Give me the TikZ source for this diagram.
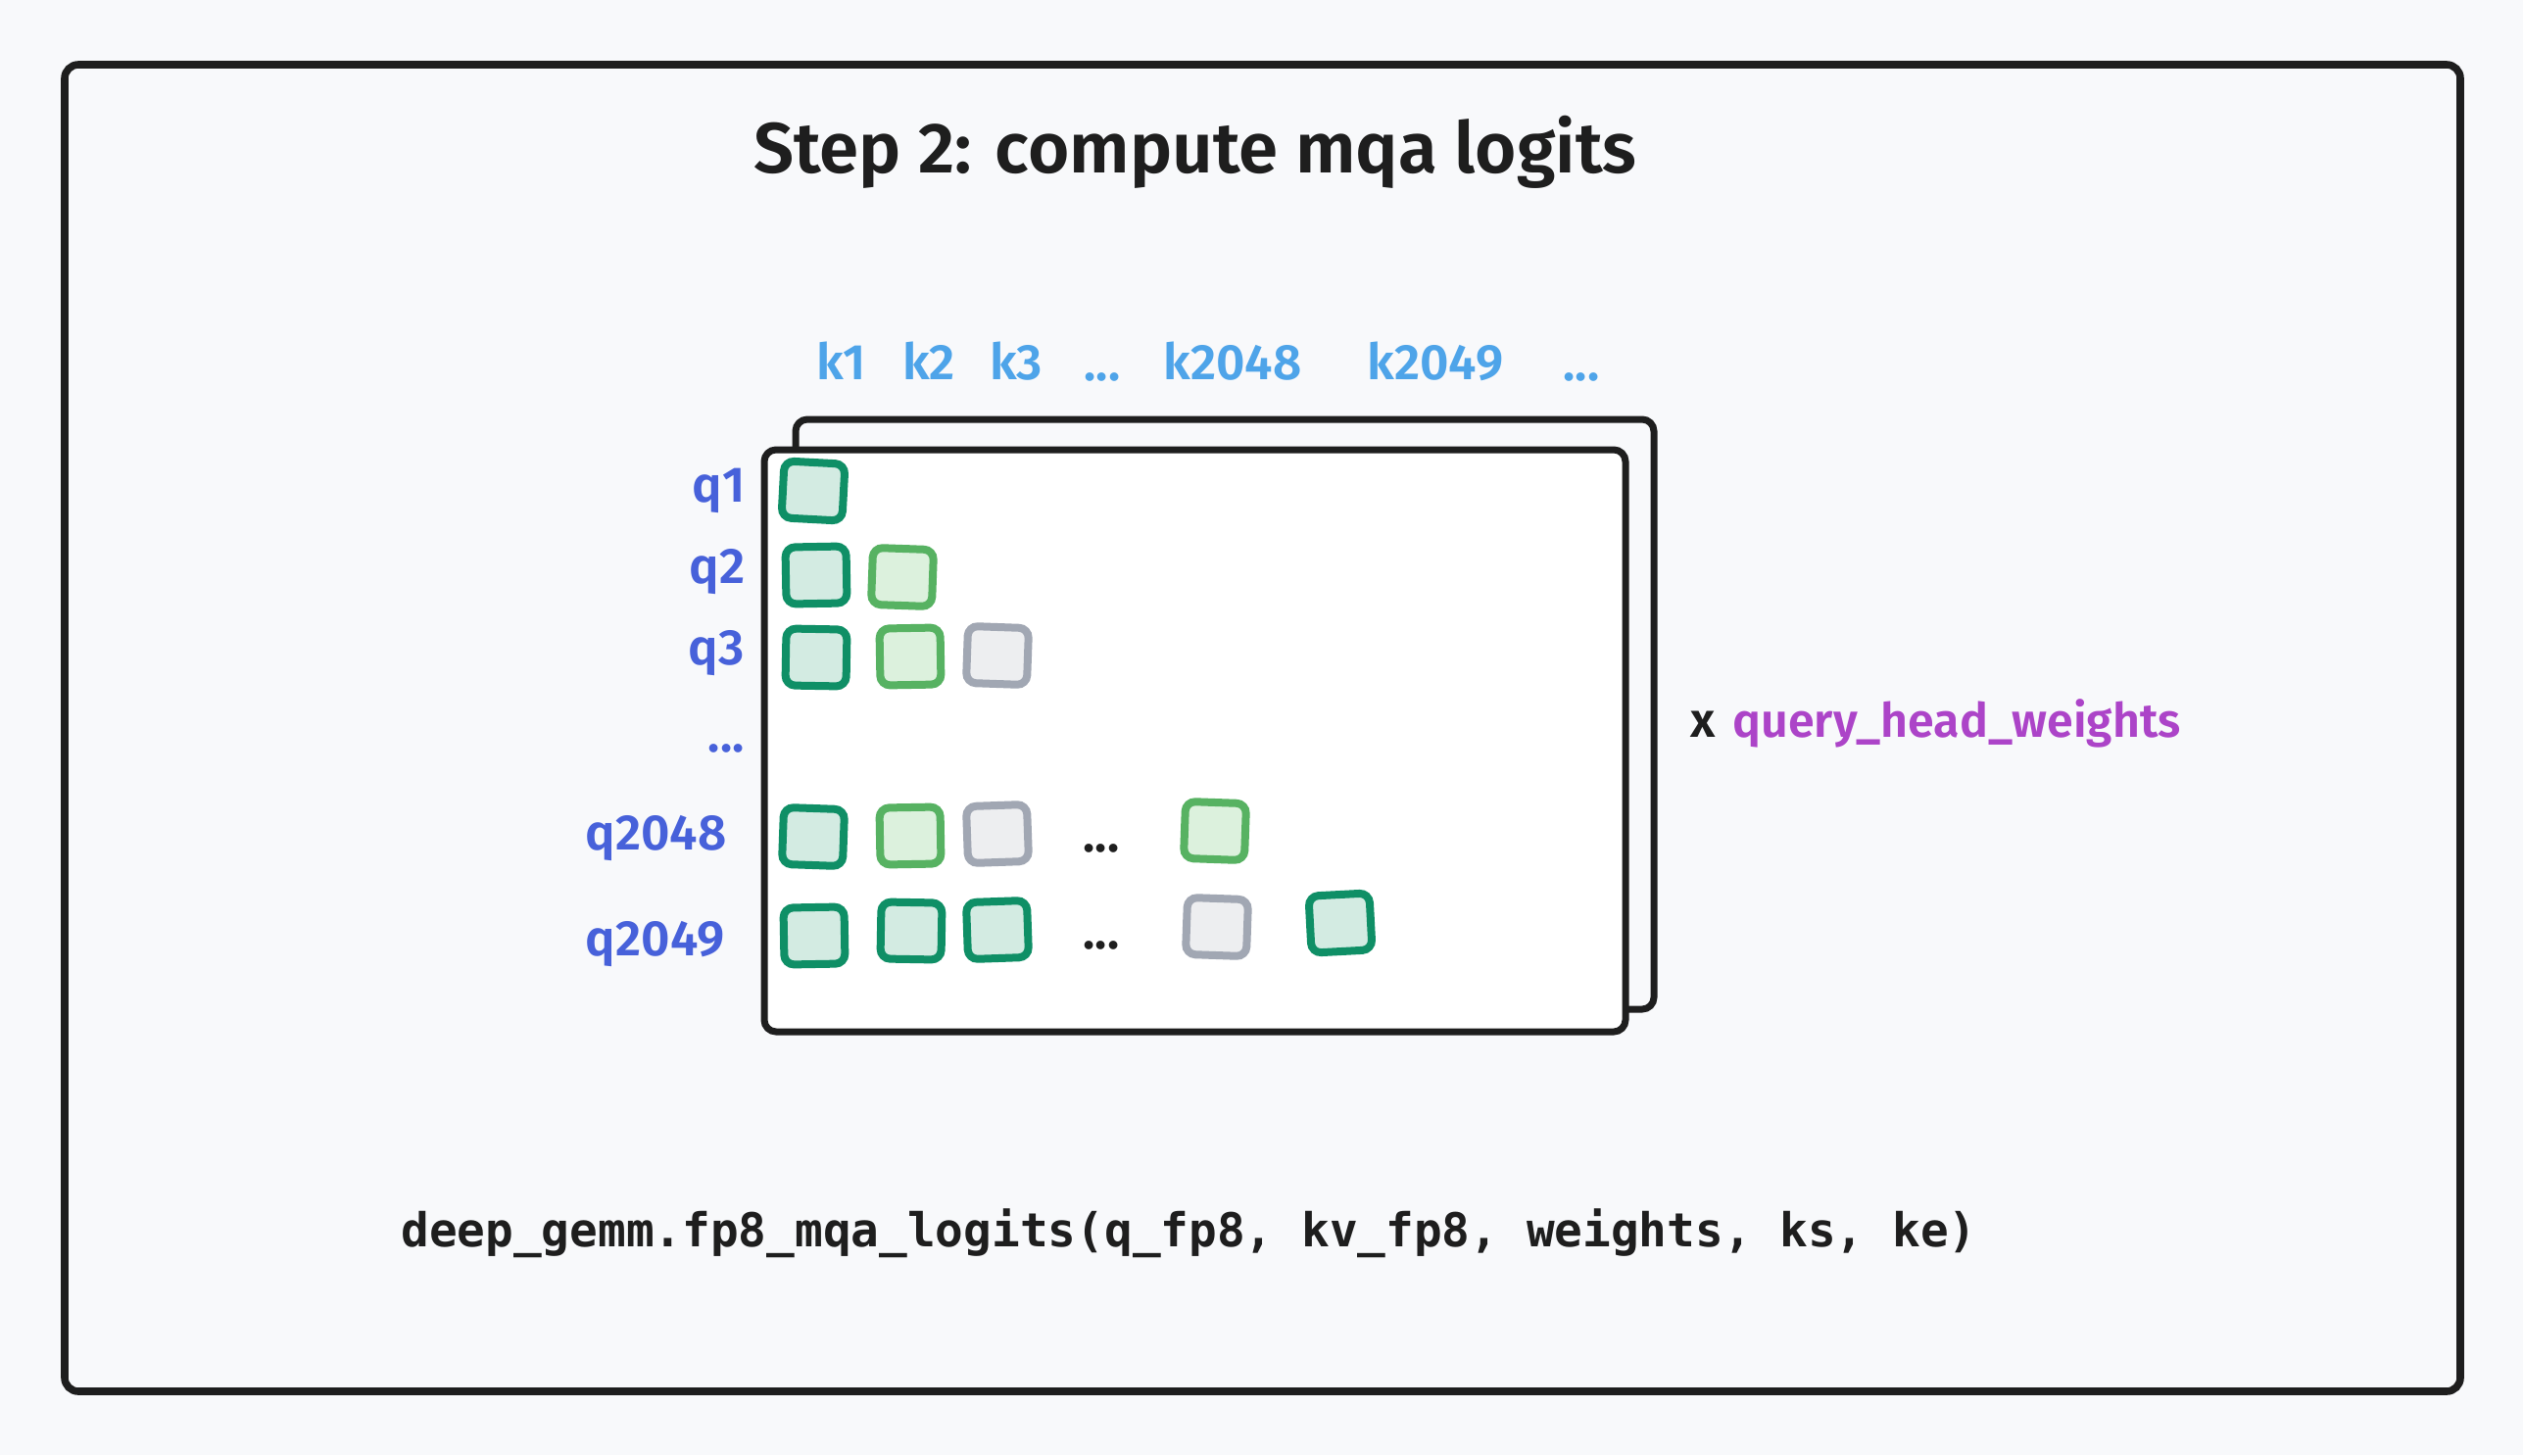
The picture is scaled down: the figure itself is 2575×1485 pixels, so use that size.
\documentclass[tikz,border=0pt]{standalone}
\usepackage{fontspec}
\newfontfamily\semib{Fira Sans SemiBold}
\newfontfamily\codef{DejaVu Sans Mono Bold}
\definecolor{bg}{HTML}{F8F9FB}
\definecolor{ink}{HTML}{1E1E1E}
\definecolor{kblue}{HTML}{4EA4E9}
\definecolor{qblue}{HTML}{4761DA}
\definecolor{purp}{HTML}{AC44C8}
\definecolor{dkS}{HTML}{0F8F66}
\definecolor{dkF}{HTML}{D3EBE2}
\definecolor{lgS}{HTML}{57B262}
\definecolor{lgF}{HTML}{DCF1DD}
\definecolor{gyS}{HTML}{A1A7B3}
\definecolor{gyF}{HTML}{EDEEF0}
\tikzset{
  frame/.style={draw=ink, line width=3.8pt, rounded corners=7pt},
  cellbase/.style={rectangle, line width=4pt, rounded corners=5pt, minimum width=31pt, minimum height=29pt, inner sep=0pt, outer sep=0pt},
  dk/.style={cellbase, draw=dkS, fill=dkF},
  lg/.style={cellbase, draw=lgS, fill=lgF},
  gy/.style={cellbase, draw=gyS, fill=gyF},
  klab/.style={text=kblue, font=\semib\fontsize{25.5}{30}\selectfont, anchor=base, inner sep=0pt},
  qlab/.style={text=qblue, font=\semib\fontsize{25.5}{30}\selectfont, anchor=base east, inner sep=0pt},
  dotlab/.style={text=ink, font=\semib\fontsize{25.5}{30}\selectfont, anchor=base, inner sep=0pt},
}
\begin{document}
\begin{tikzpicture}[x=0.5pt, y=-0.5pt]
\useasboundingbox (0,0) rectangle (2575,1485);
\fill[bg] (0,0) rectangle (2575,1485);
% outer frame
\draw[frame] (66,66) rectangle (2511,1420);
% title
\node[font=\semib\fontsize{36.3}{44}\selectfont, text=ink, anchor=base, inner sep=0pt] (title) at (1220,176) {Step 2: compute mqa logits};
% stacked matrices
\draw[frame, line width=3.5pt, rounded corners=6pt] (812,428) rectangle (1688,1030);
\draw[frame, line width=3.5pt, rounded corners=6pt, fill=white] (780,459) rectangle (1659,1053);
% k labels
\node[klab] (k1) at (859,387) {k1};
\node[klab] (k2) at (948,387) {k2};
\node[klab] (k3) at (1037,387) {k3};
\node[klab] (kd1) at (1125,388) {...};
\node[klab] (k2048) at (1258,387) {k2048};
\node[klab] (k2049) at (1465,387) {k2049};
\node[klab] (kd2) at (1614,388) {...};
% q labels
\node[qlab] (q1) at (761,512) {q1};
\node[qlab] (q2) at (761,595) {q2};
\node[qlab] (q3) at (760,678) {q3};
\node[qlab] (qd) at (760,767) {...};
\node[qlab] (q2048) at (742,867) {q2048};
\node[qlab] (q2049) at (740,975) {q2049};
% cells row 1
\node[dk, rotate=-3] (c11) at (830,501) {};
% row 2
\node[dk, rotate=1] (c21) at (833,587) {};
\node[lg, rotate=-2] (c22) at (921,589) {};
% row 3
\node[dk, rotate=-1] (c31) at (833,671) {};
\node[lg, rotate=1] (c32) at (929,670) {};
\node[gy, rotate=-2] (c33) at (1018,669) {};
% row 2048
\node[dk, rotate=-2] (d1) at (830,854) {};
\node[lg, rotate=1] (d2) at (929,853) {};
\node[gy, rotate=2] (d3) at (1018,851) {};
\node[dotlab] (dd) at (1124,869) {...};
\node[lg, rotate=-2] (d5) at (1240,848) {};
% row 2049
\node[dk, rotate=1] (e1) at (831,955) {};
\node[dk, rotate=-1] (e2) at (930,950) {};
\node[dk, rotate=2] (e3) at (1018,949) {};
\node[dotlab] (ed) at (1124,968) {...};
\node[gy, rotate=-2] (e5) at (1242,946) {};
\node[dk, rotate=3] (e6) at (1368,942) {};
% weights
\node[font=\semib\fontsize{25}{30}\selectfont, text=ink, anchor=base, inner sep=0pt] (xmul) at (1738,752) {x};
\node[font=\semib\fontsize{24.2}{29}\selectfont, text=purp, anchor=base west, inner sep=0pt] (qhw) at (1768,752) {query\_head\_weights};
% code
\node[font=\codef\fontsize{23.85}{28}\selectfont, text=ink, anchor=base west, inner sep=0pt] (code) at (409,1272) {deep\_gemm.fp8\_mqa\_logits(q\_fp8, kv\_fp8, weights, ks, ke)};
\end{tikzpicture}
\end{document}
